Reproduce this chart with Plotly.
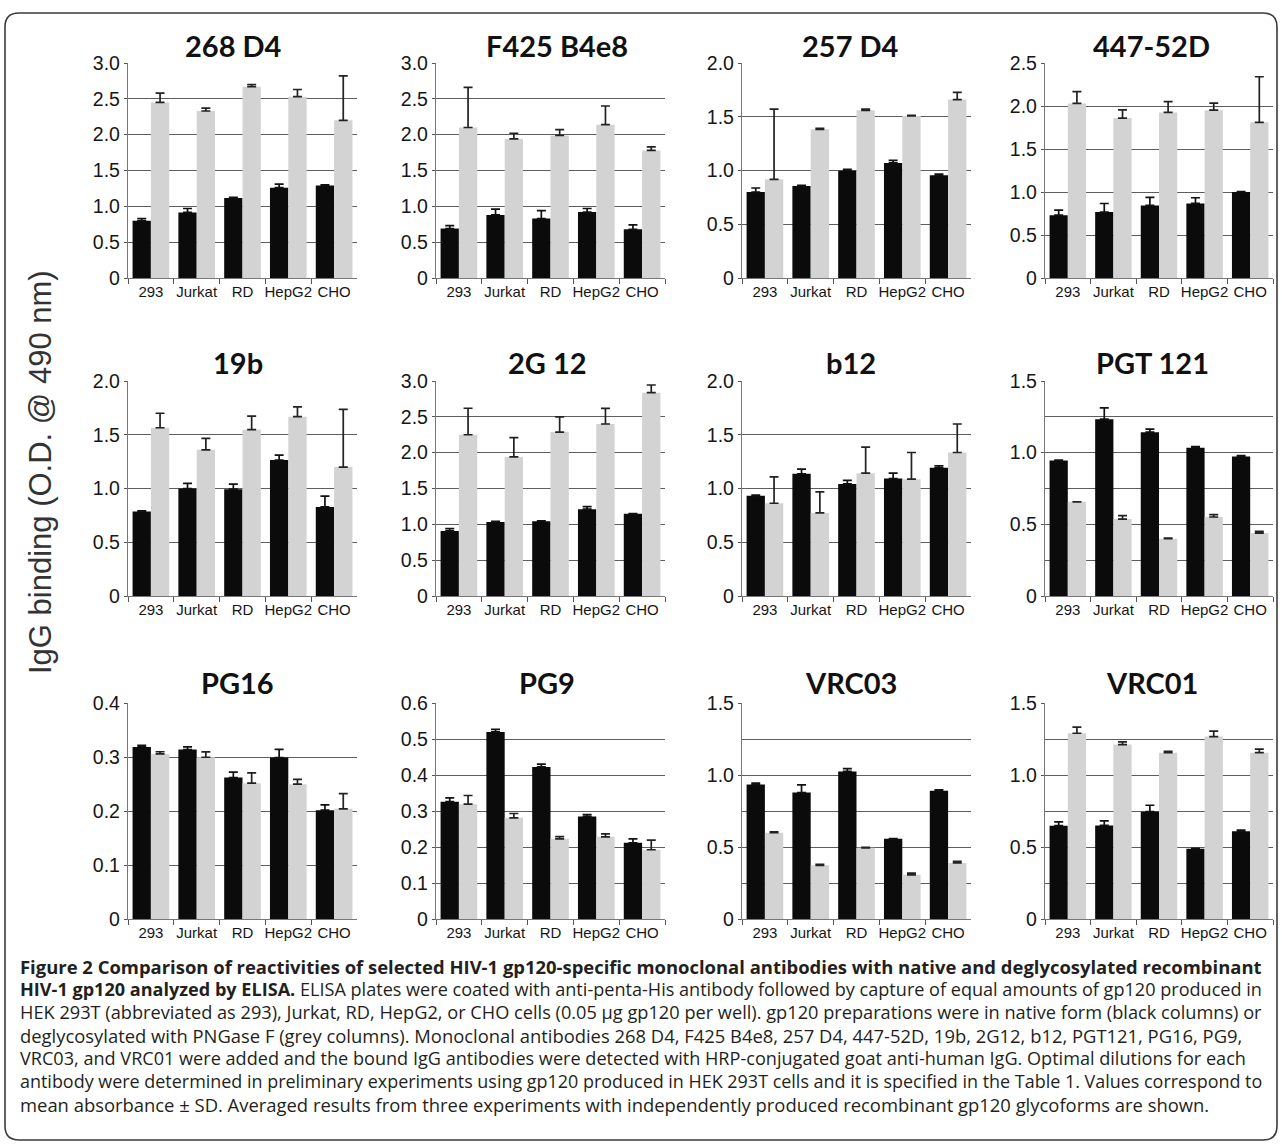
import plotly.graph_objects as go

W, H = 1282, 1144

cells = ["293", "Jurkat", "RD", "HepG2", "CHO"]

titles = ["268 D4", "F425 B4e8", "257 D4", "447-52D",
          "19b", "2G 12", "b12", "PGT 121",
          "PG16", "PG9", "VRC03", "VRC01"]

# native (black) and deglycosylated (grey) means and SD
native_268D4 = [0.80, 0.915, 1.115, 1.26, 1.29]
native_268D4_sd = [0.03, 0.055, 0.01, 0.05, 0.01]
degly_268D4 = [2.45, 2.33, 2.67, 2.53, 2.20]
degly_268D4_sd = [0.13, 0.04, 0.03, 0.10, 0.62]

native_F425 = [0.69, 0.88, 0.83, 0.92, 0.68]
native_F425_sd = [0.04, 0.08, 0.11, 0.05, 0.06]
degly_F425 = [2.10, 1.94, 1.99, 2.14, 1.78]
degly_F425_sd = [0.56, 0.08, 0.08, 0.26, 0.05]

native_257D4 = [0.80, 0.856, 0.998, 1.07, 0.955]
native_257D4_sd = [0.037, 0.006, 0.012, 0.025, 0.012]
degly_257D4 = [0.918, 1.383, 1.56, 1.507, 1.66]
degly_257D4_sd = [0.652, 0.009, 0.01, 0.006, 0.067]

native_447 = [0.73, 0.766, 0.844, 0.867, 1.0]
native_447_sd = [0.06, 0.10, 0.093, 0.066, 0.005]
degly_447 = [2.03, 1.86, 1.925, 1.952, 1.81]
degly_447_sd = [0.136, 0.096, 0.125, 0.081, 0.53]

native_19b = [0.785, 1.0, 0.994, 1.264, 0.829]
native_19b_sd = [0.006, 0.047, 0.046, 0.046, 0.10]
degly_19b = [1.565, 1.36, 1.547, 1.668, 1.199]
degly_19b_sd = [0.135, 0.106, 0.127, 0.092, 0.537]

native_2G12 = [0.908, 1.034, 1.043, 1.211, 1.146]
native_2G12_sd = [0.032, 0.006, 0.005, 0.037, 0.004]
degly_2G12 = [2.25, 1.94, 2.287, 2.40, 2.837]
degly_2G12_sd = [0.37, 0.27, 0.213, 0.218, 0.107]

native_b12 = [0.932, 1.137, 1.043, 1.093, 1.193]
native_b12_sd = [0.006, 0.043, 0.032, 0.05, 0.018]
degly_b12 = [0.863, 0.773, 1.143, 1.087, 1.335]
degly_b12_sd = [0.246, 0.196, 0.242, 0.248, 0.265]

native_PGT121 = [0.946, 1.234, 1.143, 1.035, 0.974]
native_PGT121_sd = [0.003, 0.079, 0.021, 0.007, 0.005]
degly_PGT121 = [0.657, 0.537, 0.40, 0.551, 0.439]
degly_PGT121_sd = [None, 0.024, 0.004, 0.017, 0.012]

native_PG16 = [0.3186, 0.3137, 0.262, 0.299, 0.2015]
native_PG16_sd = [0.003, 0.005, 0.01, 0.015, 0.01]
degly_PG16 = [0.3057, 0.2995, 0.2515, 0.2496, 0.204]
degly_PG16_sd = [0.004, 0.01, 0.019, 0.009, 0.028]

native_PG9 = [0.326, 0.5196, 0.4225, 0.2847, 0.2117]
native_PG9_sd = [0.0105, 0.0074, 0.0075, 0.005, 0.011]
degly_PG9 = [0.319, 0.281, 0.2228, 0.2283, 0.1923]
degly_PG9_sd = [0.024, 0.012, 0.006, 0.0084, 0.027]

native_VRC03 = [0.934, 0.878, 1.025, 0.557, 0.89]
native_VRC03_sd = [0.009, 0.054, 0.019, 0.002, 0.007]
degly_VRC03 = [0.599, 0.373, 0.494, 0.307, 0.389]
degly_VRC03_sd = [0.007, 0.007, 0.004, 0.012, 0.011]

native_VRC01 = [0.648, 0.65, 0.745, 0.487, 0.61]
native_VRC01_sd = [0.027, 0.032, 0.045, 0.004, 0.007]
degly_VRC01 = [1.29, 1.211, 1.155, 1.267, 1.155]
degly_VRC01_sd = [0.042, 0.019, 0.01, 0.037, 0.025]

native_all = [native_268D4, native_F425, native_257D4, native_447,
              native_19b, native_2G12, native_b12, native_PGT121,
              native_PG16, native_PG9, native_VRC03, native_VRC01]
native_sd_all = [native_268D4_sd, native_F425_sd, native_257D4_sd, native_447_sd,
                 native_19b_sd, native_2G12_sd, native_b12_sd, native_PGT121_sd,
                 native_PG16_sd, native_PG9_sd, native_VRC03_sd, native_VRC01_sd]
degly_all = [degly_268D4, degly_F425, degly_257D4, degly_447,
             degly_19b, degly_2G12, degly_b12, degly_PGT121,
             degly_PG16, degly_PG9, degly_VRC03, degly_VRC01]
degly_sd_all = [degly_268D4_sd, degly_F425_sd, degly_257D4_sd, degly_447_sd,
                degly_19b_sd, degly_2G12_sd, degly_b12_sd, degly_PGT121_sd,
                degly_PG16_sd, degly_PG9_sd, degly_VRC03_sd, degly_VRC01_sd]

# y-axis ranges, tick values and tick labels
y_max = [3.0, 3.0, 2.0, 2.5, 2.0, 3.0, 2.0, 1.5, 0.4, 0.6, 1.5, 1.5]
ticks_30 = [0, 0.5, 1.0, 1.5, 2.0, 2.5, 3.0]
labels_30 = ["0", "0.5", "1.0", "1.5", "2.0", "2.5", "3.0"]
ticks_25 = [0, 0.5, 1.0, 1.5, 2.0, 2.5]
labels_25 = ["0", "0.5", "1.0", "1.5", "2.0", "2.5"]
ticks_20 = [0, 0.5, 1.0, 1.5, 2.0]
labels_20 = ["0", "0.5", "1.0", "1.5", "2.0"]
ticks_15 = [0, 0.5, 1.0, 1.5]
labels_15 = ["0", "0.5", "1.0", "1.5"]
ticks_04 = [0, 0.1, 0.2, 0.3, 0.4]
labels_04 = ["0", "0.1", "0.2", "0.3", "0.4"]
ticks_06 = [0, 0.1, 0.2, 0.3, 0.4, 0.5, 0.6]
labels_06 = ["0", "0.1", "0.2", "0.3", "0.4", "0.5", "0.6"]
tick_sets = [(ticks_30, labels_30), (ticks_30, labels_30), (ticks_20, labels_20), (ticks_25, labels_25),
             (ticks_20, labels_20), (ticks_30, labels_30), (ticks_20, labels_20), (ticks_15, labels_15),
             (ticks_04, labels_04), (ticks_06, labels_06), (ticks_15, labels_15), (ticks_15, labels_15)]
minor_grid = [None, None, None, None, None, None, None, 0.25, None, None, 0.25, 0.25]

y_title = "IgG binding (O.D. @ 490 nm)"

caption_lines = [
    "<b>Figure 2 Comparison of reactivities of selected HIV-1 gp120-specific monoclonal antibodies with native and deglycosylated recombinant</b>",
    "<b>HIV-1 gp120 analyzed by ELISA.</b> ELISA plates were coated with anti-penta-His antibody followed by capture of equal amounts of gp120 produced in",
    "HEK 293T (abbreviated as 293), Jurkat, RD, HepG2, or CHO cells (0.05 μg gp120 per well). gp120 preparations were in native form (black columns) or",
    "deglycosylated with PNGase F (grey columns). Monoclonal antibodies 268 D4, F425 B4e8, 257 D4, 447-52D, 19b, 2G12, b12, PGT121, PG16, PG9,",
    "VRC03, and VRC01 were added and the bound IgG antibodies were detected with HRP-conjugated goat anti-human IgG. Optimal dilutions for each",
    "antibody were determined in preliminary experiments using gp120 produced in HEK 293T cells and it is specified in the Table 1. Values correspond to",
    "mean absorbance ± SD. Averaged results from three experiments with independently produced recombinant gp120 glycoforms are shown.",
]
caption_sizes = [18.45, 18.08, 18.2, 18.4, 18.1, 17.95, 18.42]

# ---------------- layout geometry (pixels) ----------------
col_px = [(128, 357), (436, 665), (742, 971), (1045, 1273)]
row_px = [(63, 278), (381, 596), (703, 919)]
title_y_px = [45, 362, 683]
title_dx = [-9, 6, -6, -8, -5, -3, -6, -7, -5, -4, -6, -7]


def px_x(x):
    return x / W


def px_y(y):
    return 1 - y / H


BLACK = "#0b0b0b"
GREY = "#d3d3d3"
GRID = "#5e5e5e"
TICKFONT = dict(family="Liberation Sans, Arial, sans-serif", size=19.5, color="#161616")
XTICKFONT = dict(family="Liberation Sans Narrow, Arial Narrow, Liberation Sans, sans-serif",
                 size=15, color="#161616")

fig = go.Figure()
layout = dict(
    width=W, height=H,
    margin=dict(l=0, r=0, t=0, b=0, autoexpand=False),
    paper_bgcolor="white", plot_bgcolor="white",
    showlegend=False,
    barmode="group", bargap=0.2, bargroupgap=0.0,
)

annotations = []
for i in range(12):
    r, c = divmod(i, 4)
    n = i + 1
    xa = "x" if n == 1 else f"x{n}"
    ya = "y" if n == 1 else f"y{n}"
    xkey = "xaxis" if n == 1 else f"xaxis{n}"
    ykey = "yaxis" if n == 1 else f"yaxis{n}"

    fig.add_trace(go.Bar(
        x=cells, y=native_all[i], xaxis=xa, yaxis=ya, offsetgroup="a",
        marker=dict(color=BLACK, line=dict(width=0)),
        error_y=dict(type="data", symmetric=False, array=native_sd_all[i],
                     arrayminus=[0] * 5, color="#111111", thickness=1.7, width=4.5),
    ))
    fig.add_trace(go.Bar(
        x=cells, y=degly_all[i], xaxis=xa, yaxis=ya, offsetgroup="b",
        marker=dict(color=GREY, line=dict(width=0)),
        error_y=dict(type="data", symmetric=False, array=degly_sd_all[i],
                     arrayminus=[0] * 5, color="#222222", thickness=1.7, width=4.5),
    ))

    x0, x1 = col_px[c]
    y0, y1 = row_px[r]
    tv, tt = tick_sets[i]
    layout[xkey] = dict(
        domain=[px_x(x0), px_x(x1)], anchor=ya, automargin=False,
        type="category", tickson="boundaries", ticks="outside", ticklen=5,
        tickcolor="#555555", tickwidth=1, tickangle=0,
        showline=True, linecolor="#777777", linewidth=1.3,
        showgrid=False, tickfont=XTICKFONT, fixedrange=True,
    )
    ydict = dict(
        domain=[px_y(y1), px_y(y0)], anchor=xa, automargin=False,
        range=[0, y_max[i]], tickvals=tv, ticktext=tt,
        ticks="outside", ticklen=3, tickcolor="#555555",
        showline=True, linecolor="#777777", linewidth=1.3,
        showgrid=True, gridcolor=GRID, gridwidth=1,
        zeroline=False, tickfont=TICKFONT, fixedrange=True,
    )
    if minor_grid[i]:
        ydict["minor"] = dict(dtick=minor_grid[i], tick0=0, showgrid=True,
                              gridcolor=GRID, gridwidth=1, ticks="")
    layout[ykey] = ydict

    annotations.append(dict(
        text=f"<b>{titles[i]}</b>", xref="paper", yref="paper",
        x=px_x((x0 + x1) / 2 + title_dx[i]), y=px_y(title_y_px[r]),
        xanchor="center", yanchor="middle", showarrow=False,
        font=dict(family="Lato, Open Sans, sans-serif", size=29, color="#111111"),
    ))

# y-axis title
annotations.append(dict(
    text=y_title, xref="paper", yref="paper",
    x=px_x(40), y=px_y(472), xanchor="center", yanchor="middle",
    textangle=-90, showarrow=False,
    font=dict(family="Liberation Sans, Arial, sans-serif", size=31, color="#333333"),
))

# caption
for k, line in enumerate(caption_lines):
    annotations.append(dict(
        text=line, xref="paper", yref="paper",
        x=px_x(18), y=px_y(966 + k * 23), xanchor="left", yanchor="middle",
        showarrow=False, align="left",
        font=dict(family="Open Sans, Noto Sans, sans-serif", size=caption_sizes[k], color="#231f20"),
    ))

layout["annotations"] = annotations

# rounded frame around the whole figure
xl, xr, yt, yb, rad = 5, 1277, 13, 1140, 14
path = (f"M {px_x(xl + rad)},{px_y(yt)} L {px_x(xr - rad)},{px_y(yt)} "
        f"Q {px_x(xr)},{px_y(yt)} {px_x(xr)},{px_y(yt + rad)} "
        f"L {px_x(xr)},{px_y(yb - rad)} Q {px_x(xr)},{px_y(yb)} {px_x(xr - rad)},{px_y(yb)} "
        f"L {px_x(xl + rad)},{px_y(yb)} Q {px_x(xl)},{px_y(yb)} {px_x(xl)},{px_y(yb - rad)} "
        f"L {px_x(xl)},{px_y(yt + rad)} Q {px_x(xl)},{px_y(yt)} {px_x(xl + rad)},{px_y(yt)} Z")
layout["shapes"] = [dict(type="path", xref="paper", yref="paper", path=path,
                         line=dict(color="#3a3a3a", width=1.6), layer="above")]

fig.update_layout(**layout)
fig.write_html("out.html", config={"displayModeBar": False},
               post_script="document.body.style.margin='0';")
